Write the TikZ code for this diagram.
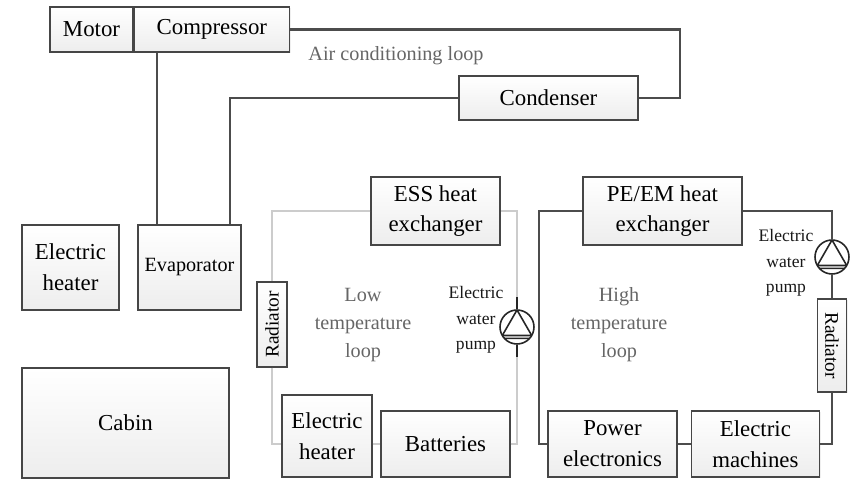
\documentclass[tikz,border=0pt]{standalone}
\usepackage{fontspec}
\setmainfont{Liberation Serif}
\usepackage{graphicx}
\usetikzlibrary{positioning,shadows}

\begin{document}
\begin{tikzpicture}[
  x=0.02cm,y=-0.02cm,
  font=\fontsize{13}{17.5}\selectfont,
  blk/.style={draw=gray!55!black,line width=0.8pt,top color=white,bottom color=gray!14,align=center,inner sep=0pt,
    drop shadow={opacity=0.12,shadow xshift=0.8pt,shadow yshift=-0.8pt}},
  pipe/.style={draw=gray!60!black,line width=1.3pt},
  lowpipe/.style={draw=gray!40,line width=1.3pt},
  loopnote/.style={text=gray!80!black,align=center,font=\fontsize{11.5}{16}\selectfont},
  pumpnote/.style={text=gray!20!black,align=center,font=\fontsize{10}{14.5}\selectfont},
  pump/.style={circle,draw=gray!30!black,line width=0.9pt,minimum size=0.68cm,inner sep=0pt,fill=white,
    path picture={\draw[gray!30!black,line width=0.9pt,shift={(path picture bounding box.center)}]
      (90:0.34cm) -- (-30:0.34cm) -- (210:0.34cm) -- cycle (-42:0.34cm) -- (222:0.34cm);}}
]
\path[use as bounding box,fill=white] (0,0) rectangle (856,480);
\node[blk,minimum width=1.66cm,minimum height=0.9cm] (motor) at (91.5,29.5) {Motor};
\node[blk,minimum width=3.1cm,minimum height=0.9cm,right=0pt of motor] (comp) {Compressor};
\node[blk,minimum width=3.58cm,minimum height=0.88cm] (cond) at (548.5,98) {Condenser};
\node[blk,minimum width=1.94cm,minimum height=1.7cm] (heatA) at (70.5,267.5) {Electric\\heater};
\node[blk,minimum width=2.06cm,minimum height=1.7cm,font=\fontsize{11.5}{15}\selectfont] (evap) at (189.5,267.5) {Evaporator};
\node[blk,minimum width=4.14cm,minimum height=2.2cm] (cabin) at (125.5,423) {Cabin};
\node[blk,minimum width=2.58cm,minimum height=1.36cm] (ess) at (435.5,211) {ESS heat\\exchanger};
\node[blk,minimum width=0.6cm,minimum height=1.7cm] (radL) at (272,324.5) {\fontsize{11}{13}\selectfont\rotatebox{90}{Radiator}};
\node[blk,minimum width=1.8cm,minimum height=1.64cm] (heatB) at (327,436) {Electric\\heater};
\node[blk,minimum width=2.58cm,minimum height=1.32cm] (batt) at (445.5,444) {Batteries};
\node[blk,minimum width=3.18cm,minimum height=1.36cm] (pe) at (662.5,211) {PE/EM heat\\exchanger};
\node[blk,minimum width=2.58cm,minimum height=1.32cm] (pwr) at (612.5,444) {Power\\electronics};
\node[blk,minimum width=2.56cm,minimum height=1.32cm,right=0.26cm of pwr] (mach) {Electric\\machines};
\node[blk,minimum width=0.58cm,minimum height=1.86cm] (radR) at (832,345.5) {\fontsize{11}{13}\selectfont\rotatebox{-90}{Radiator}};
\node[pump] (pumpL) at (517,327) {};
\node[pump] (pumpR) at (832,257) {};
\node[loopnote] (aclbl) at (396,56) {Air conditioning loop};
\node[loopnote] (lowlbl) at (363,325) {Low\\temperature\\loop};
\node[loopnote] (highlbl) at (619,325) {High\\temperature\\loop};
\node[pumpnote] (pumpLlbl) at (476,320) {Electric\\water\\pump};
\node[pumpnote] (pumpRlbl) at (786,263) {Electric\\water\\pump};
\draw[pipe] (comp.east) -- ++(390,0) |- (cond.east);
\draw[pipe] (cond.west) -| ([xshift=-0.24cm]evap.north east);
\draw[pipe] ([xshift=0.4cm]evap.north west) -- ([xshift=0.4cm]evap.north west |- comp.south);
\draw[lowpipe] (ess.west) -| (radL.north);
\draw[lowpipe] (radL.south) |- (heatB.west |- batt.west);
\draw[lowpipe] (heatB.east |- batt.west) -- (batt.west);
\draw[lowpipe] (batt.east) -| (pumpL.south);
\draw[lowpipe] (pumpL.north) |- (ess.east);
\draw[pipe,gray!30!black] (pumpL.north) -- ++(0,-12);
\draw[pipe,gray!30!black] (pumpL.south) -- ++(0,12);
\draw[pipe] (pe.west) -- ++(-43,0) |- (pwr.west);
\draw[pipe] (pwr.east) -- (mach.west);
\draw[pipe] (mach.east) -| (radR.south);
\draw[pipe] (radR.north) -- (pumpR.south);
\draw[pipe] (pumpR.north) |- (pe.east);
\end{tikzpicture}
\end{document}
